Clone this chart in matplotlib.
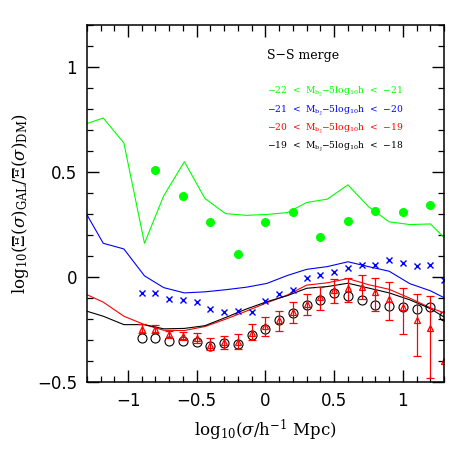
import matplotlib
matplotlib.use("Agg")
import matplotlib.pyplot as plt
from matplotlib.ticker import MultipleLocator
import numpy as np

plt.rcParams['font.family'] = ['DejaVu Serif']
plt.rcParams['mathtext.fontset'] = 'dejavuserif'

# model lines
x_line = [-1.30, -1.18, -1.03, -0.88, -0.74, -0.59, -0.44, -0.29, -0.14, 0.01,
          0.16, 0.30, 0.45, 0.60, 0.75, 0.90, 1.05, 1.20, 1.30]
green_line = [0.73, 0.757, 0.638, 0.161, 0.387, 0.549, 0.374, 0.302, 0.294, 0.298,
              0.307, 0.355, 0.371, 0.439, 0.335, 0.263, 0.25, 0.253, 0.188]
blue_line = [0.298, 0.161, 0.134, 0.006, -0.05, -0.075, -0.07, -0.06, -0.048, -0.03,
             0.008, 0.037, 0.05, 0.073, 0.05, 0.028, -0.031, -0.065, -0.098]
red_line = [-0.083, -0.119, -0.186, -0.226, -0.253, -0.254, -0.235, -0.2, -0.162, -0.122,
            -0.085, -0.038, -0.027, -0.007, -0.036, -0.058, -0.1, -0.146, -0.17]
black_line = [-0.162, -0.186, -0.226, -0.226, -0.246, -0.244, -0.231, -0.192, -0.152, -0.117,
              -0.088, -0.053, -0.045, -0.029, -0.052, -0.075, -0.108, -0.15, -0.19]

# green points
x_green = [-0.8, -0.6, -0.4, -0.2, 0.0, 0.2, 0.4, 0.6, 0.8, 1.0, 1.2]
y_green = [0.511, 0.384, 0.264, 0.11, 0.263, 0.31, 0.19, 0.269, 0.315, 0.312, 0.341]

# other points
x_pts = [-0.9, -0.8, -0.7, -0.6, -0.5, -0.4, -0.3, -0.2, -0.1, 0.0, 0.1, 0.2,
         0.3, 0.4, 0.5, 0.6, 0.7, 0.8, 0.9, 1.0, 1.1, 1.2, 1.3]
y_blue = [-0.075, -0.075, -0.103, -0.11, -0.118, -0.153, -0.165, -0.162, -0.164, -0.113,
          -0.08, -0.059, -0.005, 0.008, 0.026, 0.043, 0.059, 0.057, 0.08, 0.069, 0.053, 0.057, -0.016]
y_black = [-0.291, -0.288, -0.302, -0.305, -0.308, -0.328, -0.312, -0.32, -0.277, -0.246,
           -0.205, -0.17, -0.134, -0.111, -0.076, -0.091, -0.11, -0.132, -0.138, -0.141,
           -0.154, -0.143, -0.186]
y_red = [-0.246, -0.246, -0.27, -0.278, -0.291, -0.321, -0.31, -0.31, -0.266, -0.231,
         -0.205, -0.167, -0.127, -0.095, -0.059, -0.051, -0.046, -0.072, -0.103, -0.141,
         -0.205, -0.242, -0.398]
red_upper = [-0.221, -0.229, -0.254, -0.259, -0.266, -0.29, -0.28, -0.27, -0.221, -0.191,
             -0.159, -0.12, -0.078, -0.046, -0.011, -0.003, 0.008, -0.005, -0.024, -0.051,
             -0.079, -0.09, -0.166]
red_lower = [-0.266, -0.266, -0.289, -0.299, -0.311, -0.348, -0.343, -0.343, -0.297, -0.282,
             -0.258, -0.22, -0.178, -0.157, -0.122, -0.116, -0.106, -0.159, -0.202, -0.27,
             -0.374, -0.48, -0.65]

title_text = 'S\u2212S merge'
legend_texts = [r'$-$22  <  M$_{\rm b_J}$$-$5log$_{10}$h  <  $-$21',
                r'$-$21  <  M$_{\rm b_J}$$-$5log$_{10}$h  <  $-$20',
                r'$-$20  <  M$_{\rm b_J}$$-$5log$_{10}$h  <  $-$19',
                r'$-$19  <  M$_{\rm b_J}$$-$5log$_{10}$h  <  $-$18']

GREEN = '#00ff00'
BLUE = '#0000ff'
RED = '#ff0000'
legend_colors = [GREEN, BLUE, RED, 'black']

fig = plt.figure(figsize=(4.69, 4.69), dpi=100)
ax = fig.add_axes([0.185, 0.185, 0.762, 0.762])

lw = 0.8
ax.plot(x_line, green_line, color=GREEN, lw=lw)
ax.plot(x_line, blue_line, color=BLUE, lw=lw)
ax.plot(x_line, red_line, color=RED, lw=lw)
ax.plot(x_line, black_line, color='black', lw=lw)

ax.plot(x_green, y_green, 'o', color=GREEN, ms=5.5, mec=GREEN)
ax.plot(x_pts, y_blue, 'x', color=BLUE, ms=4, mew=1.0)
ax.plot(x_pts, y_black, 'o', mfc='none', mec='black', ms=6.5, mew=0.8)

yr = np.array(y_red)
yerr = [yr - np.array(red_lower), np.array(red_upper) - yr]
ax.errorbar(x_pts, y_red, yerr=yerr, fmt='^', mfc='none', mec=RED, ms=4.5, mew=0.9,
            ecolor=RED, elinewidth=0.9, capsize=3, capthick=0.9)

ax.set_xlim(-1.3, 1.3)
ax.set_ylim(-0.5, 1.2)
ax.xaxis.set_major_locator(MultipleLocator(0.5))
ax.xaxis.set_minor_locator(MultipleLocator(0.1))
ax.yaxis.set_major_locator(MultipleLocator(0.5))
ax.yaxis.set_minor_locator(MultipleLocator(0.1))
ax.tick_params(which='both', direction='in', top=True, right=True)
ax.tick_params(which='major', length=8.5, width=1.0, labelsize=12, pad=7)
ax.tick_params(which='minor', length=4.3, width=0.9)
for s in ax.spines.values():
    s.set_linewidth(1.1)

def fmt(v, pos):
    if abs(v) < 1e-9:
        return '0'
    return ('%g' % v).replace('-', '\u2212')
ax.xaxis.set_major_formatter(plt.FuncFormatter(fmt))
ax.yaxis.set_major_formatter(plt.FuncFormatter(fmt))
for lab in ax.get_xticklabels() + ax.get_yticklabels():
    lab.set_family('DejaVu Sans')

ax.set_xlabel(r'log$_{10}$($\sigma$/h$^{-1}$ Mpc)', fontsize=12, labelpad=6)
ax.set_ylabel(r'log$_{10}$($\Xi$($\sigma$)$_{\rm GAL}$/$\Xi$($\sigma$)$_{\rm DM}$)', fontsize=12, labelpad=4)

ax.text(0.01, 1.055, title_text, fontsize=9, color='black', va='center', ha='left')
for t, c, yv in zip(legend_texts, legend_colors, [0.88, 0.792, 0.705, 0.62]):
    ax.text(0.01, yv, t, fontsize=6.6, color=c, va='center', ha='left')

fig.savefig('out.png', dpi=100)
